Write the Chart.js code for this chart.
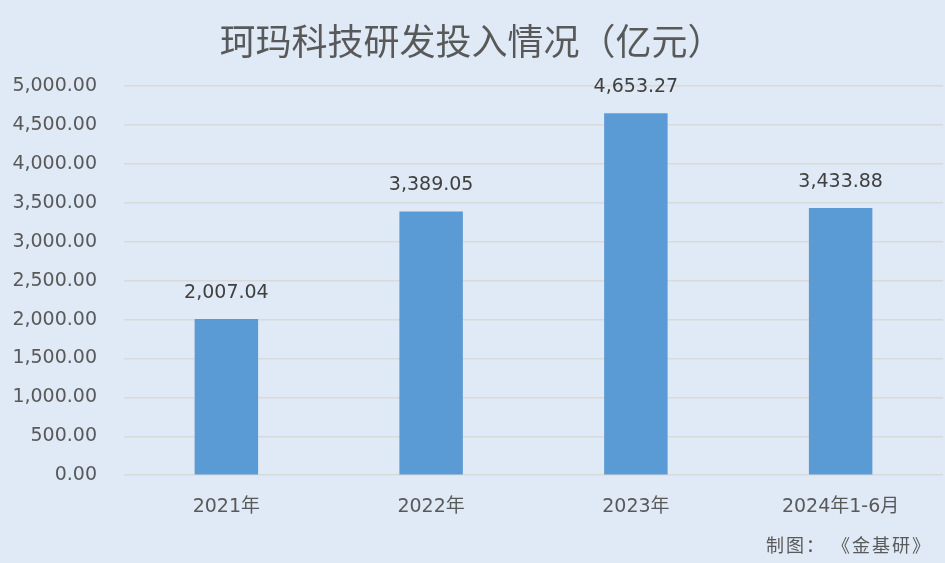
<!DOCTYPE html>
<html>
<head>
<meta charset="utf-8">
<script src="https://cdn.jsdelivr.net/npm/chart.js@4.4.0/dist/chart.umd.min.js"></script>
<style>
  html, body { margin: 0; padding: 0; background: #dfeaf6; }
  #wrap { width: 945px; height: 563px; position: relative; }
</style>
</head>
<body>
<div id="wrap"><canvas id="c"></canvas></div>
<script>
// Data
const categories = ['2021年', '2022年', '2023年', '2024年1-6月'];
const rdSpend = [2007.04, 3389.05, 4653.27, 3433.88];
const yTicks = [0, 500, 1000, 1500, 2000, 2500, 3000, 3500, 4000, 4500, 5000];

const FONT = '"Noto Sans CJK SC", "Microsoft YaHei", sans-serif';
const NUM_FONT = '"DejaVu Sans", "Noto Sans CJK SC", sans-serif';
const fmt = v => v.toLocaleString('en-US', { minimumFractionDigits: 2, maximumFractionDigits: 2 });

// Value labels above bars + source note
const labelPlugin = {
    id: 'valueLabels',
    afterDatasetsDraw(chart) {
        const { ctx } = chart;
        const meta = chart.getDatasetMeta(0);
        ctx.save();
        ctx.font = '19px ' + NUM_FONT;
        ctx.fillStyle = '#404040';
        ctx.textAlign = 'center';
        ctx.textBaseline = 'middle';
        meta.data.forEach((bar, i) => {
            ctx.fillText(fmt(rdSpend[i]), bar.x, bar.y - 26);
        });
        // source note
        ctx.font = '18px ' + FONT;
        ctx.fillStyle = '#595959';
        ctx.textAlign = 'right';
        ctx.textBaseline = 'middle';
        ctx.letterSpacing = '2px';
        ctx.fillText('制图： 《金基研》', 932, 545);
        ctx.restore();
    }
};

new Chart(document.getElementById('c'), {
    type: 'bar',
    data: {
        labels: categories,
        datasets: [{
            data: rdSpend,
            backgroundColor: '#5b9bd5',
            borderWidth: 0,
            categoryPercentage: 1,
            barPercentage: 0.31,
        }],
    },
    options: {
        responsive: true,
        maintainAspectRatio: false,
        animation: false,
        devicePixelRatio: 1,
        layout: { padding: { left: 0, right: 2, top: 0, bottom: 33 } },
        plugins: {
            legend: { display: false },
            tooltip: { enabled: false },
            title: {
                display: true,
                text: '珂玛科技研发投入情况（亿元）',
                color: '#595959',
                font: { family: FONT, size: 36, weight: 'normal' },
                padding: { top: 20, bottom: 23 },
            },
        },
        scales: {
            x: {
                grid: { display: false },
                border: { display: false },
                ticks: { color: '#595959', font: { family: NUM_FONT, size: 19 }, padding: 12 },
            },
            y: {
                min: 0,
                max: 5000,
                afterBuildTicks: axis => { axis.ticks = yTicks.map(v => ({ value: v })); },
                afterFit: axis => { axis.width = 124; },
                grid: { color: '#d9d9d9', lineWidth: 1.5, drawTicks: false },
                border: { display: false },
                ticks: {
                    color: '#595959',
                    font: { family: NUM_FONT, size: 19 },
                    padding: 27,
                    callback: v => fmt(v),
                },
            },
        },
    },
    plugins: [labelPlugin],
});
</script>
</body>
</html>
